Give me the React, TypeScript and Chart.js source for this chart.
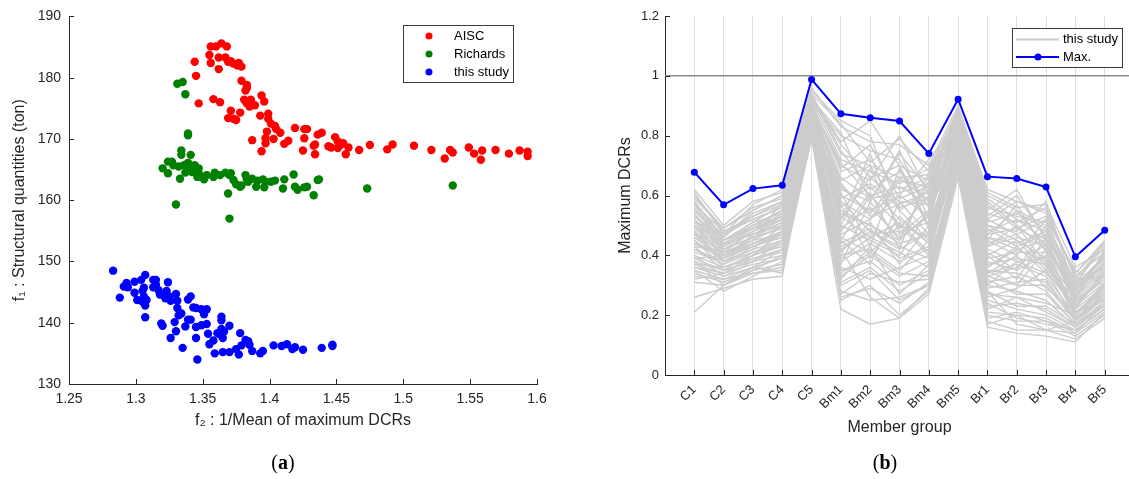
import React, { useEffect, useRef } from 'react';
import { Chart, registerables } from 'chart.js';

Chart.register(...registerables);

// ---------- Panel (a): scatter data ----------
const aiscF2 = [1.355, 1.356, 1.360, 1.364, 1.368, 1.356, 1.362, 1.362, 1.367, 1.369, 1.371, 1.373, 1.376, 1.377, 1.379,
  1.344, 1.345, 1.347, 1.358, 1.363, 1.379, 1.383, 1.383, 1.382, 1.381, 1.383, 1.385, 1.386, 1.389, 1.394, 1.396,
  1.371, 1.378, 1.369, 1.373, 1.375, 1.393, 1.399, 1.399, 1.401, 1.404, 1.405, 1.408, 1.398, 1.397, 1.397, 1.403,
  1.387, 1.394, 1.411, 1.414, 1.419, 1.426, 1.428, 1.426, 1.425, 1.434, 1.433, 1.434, 1.436, 1.439, 1.444, 1.446,
  1.449, 1.451, 1.453, 1.451, 1.455, 1.457, 1.459, 1.467, 1.475, 1.488, 1.492, 1.508, 1.521, 1.531, 1.535, 1.537,
  1.549, 1.553, 1.558, 1.559, 1.569, 1.579, 1.587, 1.593, 1.593];
const aiscF1 = [183.7, 185.1, 185.1, 185.6, 185.1, 182.4, 183.3, 181.4, 183.3, 182.6, 182.7, 182.3, 182.0, 182.4, 181.8,
  182.6, 180.3, 175.8, 176.5, 176.0, 179.5, 178.8, 178.3, 177.9, 176.4, 175.8, 175.3, 176.4, 175.5, 177.1, 176.1,
  174.6, 174.3, 173.4, 173.3, 173.1, 173.8, 174.1, 173.3, 172.5, 172.1, 171.6, 171.0, 171.2, 170.1, 169.3, 170.0,
  169.8, 168.0, 169.2, 169.7, 171.8, 171.6, 171.6, 170.1, 168.1, 169.1, 168.9, 167.5, 170.7, 171.0, 168.8, 168.6,
  170.3, 169.6, 169.0, 168.5, 169.3, 167.5, 168.6, 168.2, 169.0, 168.3, 169.1, 168.9, 168.2, 166.8, 168.2, 167.8,
  168.6, 167.6, 166.6, 168.1, 168.2, 167.6, 168.1, 167.9, 167.2];

const richardsF2 = [1.331, 1.335, 1.337, 1.339, 1.339, 1.334, 1.334, 1.341, 1.320, 1.324, 1.324, 1.327, 1.328, 1.333,
  1.332, 1.336, 1.339, 1.337, 1.341, 1.344, 1.345, 1.347, 1.347, 1.349, 1.351, 1.353, 1.359, 1.363, 1.367, 1.370,
  1.371, 1.369, 1.370, 1.373, 1.375, 1.378, 1.379, 1.382, 1.383, 1.384, 1.387, 1.390, 1.391, 1.395, 1.396, 1.397,
  1.401, 1.404, 1.410, 1.411, 1.418, 1.419, 1.421, 1.426, 1.428, 1.433, 1.436, 1.437, 1.330, 1.473, 1.537, 1.358,
  1.346, 1.342];
const richardsF1 = [179.0, 179.3, 177.3, 170.6, 170.9, 168.1, 167.4, 167.4, 165.2, 164.4, 166.3, 166.3, 165.7, 163.5,
  165.5, 165.7, 166.1, 164.5, 165.2, 165.7, 165.2, 165.2, 164.4, 163.8, 163.4, 164.1, 164.5, 164.1, 164.5, 164.1,
  164.4, 161.1, 157.0, 163.3, 162.6, 162.2, 162.4, 164.1, 163.4, 163.0, 163.5, 162.2, 163.2, 163.4, 162.1, 163.0,
  163.0, 163.2, 161.9, 163.4, 164.2, 162.2, 161.7, 162.1, 162.2, 160.8, 163.3, 163.4, 159.3, 161.9, 162.4, 163.8,
  163.8, 164.6];

const studyF2 = [1.283, 1.288, 1.293, 1.294, 1.299, 1.299, 1.301, 1.304, 1.305, 1.306, 1.306, 1.307, 1.307, 1.308,
  1.307, 1.313, 1.313, 1.315, 1.315, 1.317, 1.318, 1.319, 1.320, 1.322, 1.323, 1.324, 1.325, 1.326, 1.326, 1.329,
  1.330, 1.330, 1.331, 1.331, 1.332, 1.334, 1.335, 1.337, 1.339, 1.339, 1.341, 1.341, 1.343, 1.345, 1.345, 1.345,
  1.346, 1.349, 1.351, 1.349, 1.353, 1.353, 1.354, 1.355, 1.358, 1.359, 1.361, 1.363, 1.364, 1.364, 1.364, 1.365,
  1.366, 1.365, 1.370, 1.370, 1.375, 1.377, 1.378, 1.379, 1.382, 1.384, 1.385, 1.387, 1.393, 1.395, 1.403, 1.409,
  1.413, 1.417, 1.419, 1.425, 1.439, 1.447, 1.447, 1.305, 1.291];
const studyF1 = [148.5, 144.1, 146.5, 145.8, 146.7, 144.9, 143.7, 147.0, 143.4, 145.7, 144.3, 142.8, 140.9, 143.7,
  147.8, 147.0, 145.8, 147.0, 146.2, 145.3, 144.6, 139.9, 139.5, 144.0, 145.2, 146.6, 144.3, 143.6, 137.5, 140.1,
  138.6, 144.7, 143.6, 142.4, 141.2, 141.5, 135.9, 139.4, 140.5, 143.8, 144.3, 140.5, 142.5, 142.4, 139.3, 137.5,
  134.0, 142.2, 141.4, 139.6, 142.2, 139.8, 138.2, 136.5, 137.1, 135.0, 138.3, 138.1, 141.0, 140.4, 139.0, 137.5,
  138.6, 135.2, 135.2, 139.5, 135.7, 134.8, 138.3, 136.3, 137.2, 137.0, 136.4, 135.4, 135.0, 135.4, 136.3, 136.2,
  136.5, 135.7, 136.0, 135.6, 135.9, 136.4, 136.2, 145.2, 145.9];

const f2Ticks = [1.25, 1.3, 1.35, 1.4, 1.45, 1.5, 1.55, 1.6];
const f2TickLabels = ['1.25', '1.3', '1.35', '1.4', '1.45', '1.5', '1.55', '1.6'];
const f1Ticks = [130, 140, 150, 160, 170, 180, 190];
const f1TickLabels = ['130', '140', '150', '160', '170', '180', '190'];

// ---------- Panel (b): member group DCRs ----------
const memberGroups = ['C1', 'C2', 'C3', 'C4', 'C5', 'Bm1', 'Bm2', 'Bm3', 'Bm4', 'Bm5', 'Br1', 'Br2', 'Br3', 'Br4', 'Br5'];
const maxDCR = [0.678, 0.569, 0.623, 0.634, 0.988, 0.873, 0.860, 0.849, 0.740, 0.922, 0.663, 0.657, 0.628, 0.395, 0.484];
const dcrTicks = [0, 0.2, 0.4, 0.6, 0.8, 1, 1.2];
const dcrTickLabels = ['0', '0.2', '0.4', '0.6', '0.8', '1', '1.2'];
const dcrLimit = 1;
const studyRuns = [
  [.62, .50, .58, .61, .95, .85, .80, .55, .45, .88, .60, .55, .50, .30, .40],
  [.58, .46, .55, .60, .93, .78, .85, .70, .50, .90, .55, .62, .45, .25, .42],
  [.55, .45, .50, .55, .90, .70, .65, .80, .60, .86, .50, .48, .58, .28, .38],
  [.52, .42, .48, .52, .92, .60, .55, .60, .72, .84, .45, .40, .52, .35, .30],
  [.50, .40, .45, .58, .88, .55, .50, .45, .65, .82, .40, .45, .35, .22, .35],
  [.48, .38, .42, .50, .86, .50, .45, .40, .55, .80, .38, .35, .40, .20, .30],
  [.45, .36, .40, .48, .85, .45, .60, .50, .40, .78, .35, .30, .30, .18, .28],
  [.43, .35, .38, .45, .84, .40, .42, .35, .45, .75, .30, .28, .25, .16, .25],
  [.40, .33, .36, .42, .83, .35, .38, .30, .35, .72, .25, .22, .20, .15, .22],
  [.38, .30, .35, .40, .80, .30, .35, .25, .30, .70, .20, .18, .18, .13, .20],
  [.35, .28, .33, .38, .82, .25, .30, .20, .28, .68, .18, .15, .15, .12, .19],
  [.33, .32, .34, .35, .79, .22, .17, .19, .27, .66, .16, .14, .13, .11, .21],
  [.21, .30, .36, .34, .81, .28, .25, .26, .30, .70, .17, .20, .15, .14, .24],
  [.26, .29, .32, .33, .87, .42, .26, .19, .29, .74, .28, .17, .15, .18, .27],
  [.32, .34, .40, .44, .89, .65, .70, .55, .62, .85, .48, .52, .45, .32, .33],
  [.60, .48, .52, .56, .94, .75, .62, .68, .58, .89, .58, .50, .42, .30, .45],
  [.57, .44, .47, .50, .91, .68, .72, .62, .66, .87, .52, .58, .55, .33, .41],
  [.54, .41, .44, .47, .90, .62, .58, .75, .52, .83, .46, .44, .48, .26, .36],
  [.51, .47, .53, .57, .87, .58, .48, .42, .48, .79, .42, .38, .34, .24, .32],
  [.47, .43, .49, .53, .85, .52, .66, .58, .57, .81, .36, .42, .38, .21, .29],
  [.44, .39, .43, .46, .84, .47, .52, .65, .63, .77, .33, .36, .44, .19, .27],
  [.42, .37, .41, .43, .83, .43, .47, .48, .51, .76, .31, .33, .28, .17, .26],
  [.39, .40, .46, .49, .86, .38, .44, .38, .42, .73, .27, .26, .24, .20, .31],
  [.37, .36, .39, .41, .82, .33, .40, .33, .38, .71, .23, .24, .22, .16, .23],
  [.36, .34, .37, .39, .80, .31, .36, .28, .34, .69, .21, .20, .19, .14, .21],
  [.46, .42, .46, .51, .88, .56, .63, .52, .44, .80, .44, .47, .36, .23, .34],
  [.53, .45, .51, .54, .89, .64, .53, .57, .61, .85, .49, .43, .47, .27, .37],
  [.59, .49, .56, .59, .92, .72, .68, .64, .69, .88, .56, .53, .51, .31, .43],
  [.49, .41, .45, .50, .87, .49, .56, .46, .53, .82, .39, .41, .41, .22, .30],
  [.41, .38, .42, .45, .85, .36, .32, .36, .40, .75, .29, .31, .32, .18, .26],
  [.56, .43, .49, .55, .91, .80, .75, .72, .56, .86, .53, .60, .46, .29, .39],
  [.44, .40, .44, .48, .86, .54, .50, .44, .47, .78, .37, .39, .37, .21, .28],
  [.50, .44, .50, .53, .90, .66, .59, .61, .64, .84, .47, .49, .53, .34, .44],
  [.38, .35, .38, .42, .84, .39, .46, .41, .36, .74, .32, .27, .27, .17, .24],
  [.61, .47, .57, .62, .96, .83, .78, .77, .70, .90, .61, .56, .57, .36, .42],
  [.34, .31, .35, .37, .81, .27, .34, .31, .32, .72, .24, .19, .17, .15, .22],
  [.47, .39, .47, .52, .88, .59, .64, .56, .59, .83, .43, .46, .43, .25, .35],
  [.42, .37, .43, .47, .85, .46, .41, .50, .46, .77, .35, .34, .31, .19, .27],
  [.53, .46, .54, .58, .93, .74, .70, .66, .67, .87, .51, .54, .49, .28, .40],
  [.45, .38, .41, .44, .86, .44, .49, .39, .43, .79, .34, .37, .33, .20, .29],
  [.57, .48, .53, .58, .92, .81, .58, .74, .62, .89, .57, .49, .44, .27, .38],
  [.52, .44, .47, .51, .89, .52, .74, .47, .55, .84, .45, .57, .41, .31, .36],
  [.48, .40, .43, .47, .87, .61, .43, .69, .49, .81, .41, .35, .50, .24, .33],
  [.43, .41, .48, .54, .90, .48, .61, .42, .68, .86, .50, .45, .39, .26, .41],
  [.40, .36, .40, .43, .84, .57, .39, .53, .44, .76, .34, .40, .29, .21, .25],
  [.36, .33, .38, .40, .83, .41, .51, .37, .50, .74, .26, .29, .35, .18, .30],
  [.55, .47, .52, .56, .91, .69, .77, .59, .63, .88, .54, .51, .56, .32, .44],
  [.50, .42, .46, .49, .88, .63, .54, .66, .58, .83, .47, .55, .43, .28, .37],
  [.46, .39, .44, .48, .86, .53, .46, .51, .41, .80, .40, .32, .46, .23, .31],
  [.44, .41, .45, .47, .85, .37, .58, .45, .54, .78, .36, .43, .34, .24, .34],
  [.39, .35, .41, .45, .83, .45, .37, .58, .47, .75, .30, .38, .39, .19, .26],
  [.58, .45, .51, .57, .93, .77, .66, .70, .65, .87, .59, .52, .48, .30, .39],
  [.35, .32, .36, .39, .82, .32, .43, .27, .37, .71, .22, .26, .21, .16, .24],
  [.31, .30, .34, .36, .80, .26, .29, .24, .31, .70, .19, .21, .18, .15, .22],
  [.54, .43, .50, .55, .90, .71, .60, .63, .57, .85, .52, .47, .52, .29, .40],
  [.47, .45, .49, .52, .88, .50, .69, .49, .60, .81, .43, .50, .37, .25, .32],
  [.42, .38, .44, .46, .85, .42, .48, .43, .39, .77, .33, .30, .42, .20, .28],
  [.60, .49, .55, .60, .94, .84, .71, .79, .68, .89, .62, .58, .54, .34, .45],
  [.37, .34, .39, .42, .84, .34, .41, .34, .33, .73, .28, .23, .23, .17, .23],
  [.51, .43, .48, .53, .89, .58, .52, .60, .53, .83, .46, .42, .45, .26, .36],
];

const FONT = '"Liberation Sans", Arial, sans-serif';
const AX = '#262626';
const GRAY = 'rgb(204,204,204)';

const inwardTicks = {
  id: 'inwardTicks',
  afterDraw(chart: any) {
    const { ctx, chartArea, scales } = chart;
    ctx.save();
    ctx.strokeStyle = AX;
    ctx.lineWidth = 1;
    const xs = scales.x, ys = scales.y;
    xs.ticks.forEach((t: any) => {
      const px = Math.round(xs.getPixelForValue(t.value)) + 0.5;
      ctx.beginPath(); ctx.moveTo(px, chartArea.bottom); ctx.lineTo(px, chartArea.bottom - 5); ctx.stroke();
    });
    ys.ticks.forEach((t: any) => {
      const py = Math.round(ys.getPixelForValue(t.value)) + 0.5;
      ctx.beginPath(); ctx.moveTo(chartArea.left, py); ctx.lineTo(chartArea.left + 5, py); ctx.stroke();
    });
    ctx.restore();
  },
};

const scatterLegend = {
  id: 'scatterLegend',
  afterDraw(chart: any) {
    const { ctx } = chart;
    const x0 = 403, y0 = 25, w = 110, h = 57;
    ctx.save();
    ctx.fillStyle = '#fff';
    ctx.fillRect(x0, y0, w, h);
    ctx.strokeStyle = '#3c3c3c';
    ctx.lineWidth = 1;
    ctx.strokeRect(x0 + 0.5, y0 + 0.5, w, h);
    ctx.font = '13px ' + FONT;
    ctx.textBaseline = 'middle';
    chart.data.datasets.forEach((ds: any, i: number) => {
      const y = y0 + 11 + i * 18;
      ctx.fillStyle = ds.backgroundColor;
      ctx.beginPath(); ctx.arc(x0 + 26, y, 3.5, 0, Math.PI * 2); ctx.fill();
      ctx.fillStyle = '#000';
      ctx.fillText(ds.label, x0 + 51, y);
    });
    ctx.restore();
  },
};

const lineLegend = {
  id: 'lineLegend',
  afterDraw(chart: any) {
    const { ctx } = chart;
    const x0 = 432, y0 = 28, w = 110, h = 39;
    ctx.save();
    ctx.fillStyle = '#fff';
    ctx.fillRect(x0, y0, w, h);
    ctx.strokeStyle = '#3c3c3c';
    ctx.lineWidth = 1;
    ctx.strokeRect(x0 + 0.5, y0 + 0.5, w, h);
    ctx.font = '13px ' + FONT;
    ctx.textBaseline = 'middle';
    const entries = chart.data.datasets
      .filter((d: any) => d.legendIndex !== undefined)
      .sort((a: any, b: any) => a.legendIndex - b.legendIndex);
    entries.forEach((ds: any, i: number) => {
      const y = y0 + 11.5 + i * 17.5;
      ctx.strokeStyle = ds.borderColor;
      ctx.lineWidth = 2;
      ctx.beginPath(); ctx.moveTo(x0 + 4, y); ctx.lineTo(x0 + 47, y); ctx.stroke();
      if (ds.pointRadius > 0) {
        ctx.fillStyle = ds.borderColor;
        ctx.beginPath(); ctx.arc(x0 + 26, y, 3.5, 0, Math.PI * 2); ctx.fill();
      }
      ctx.fillStyle = '#000';
      ctx.fillText(ds.label, x0 + 51, y);
    });
    ctx.restore();
  },
};

export default function App() {
  const leftRef = useRef<HTMLCanvasElement>(null);
  const rightRef = useRef<HTMLCanvasElement>(null);

  useEffect(() => {
    const tickFontA = { family: FONT, size: 14 };
    const tickFontB = { family: FONT, size: 13 };
    const titleFont = { family: FONT, size: 16 };

    const left = new Chart(leftRef.current as HTMLCanvasElement, {
      type: 'scatter',
      data: {
        datasets: [
          { label: 'AISC', data: aiscF2.map((x, i) => ({ x, y: aiscF1[i] })), backgroundColor: '#ff0000', borderWidth: 0, pointRadius: 4.2 },
          { label: 'Richards', data: richardsF2.map((x, i) => ({ x, y: richardsF1[i] })), backgroundColor: '#008000', borderWidth: 0, pointRadius: 4.2 },
          { label: 'this study', data: studyF2.map((x, i) => ({ x, y: studyF1[i] })), backgroundColor: '#0000ff', borderWidth: 0, pointRadius: 4.2 },
        ],
      },
      options: {
        responsive: false,
        animation: false,
        events: [],
        layout: { padding: { top: 16, right: 23, left: 0, bottom: 0 } },
        plugins: { legend: { display: false }, tooltip: { enabled: false } },
        scales: {
          x: {
            type: 'linear', min: 1.25, max: 1.6,
            afterBuildTicks: (s: any) => { s.ticks = f2Ticks.map((v) => ({ value: v })); },
            afterFit: (s: any) => { s.height = 95; },
            ticks: { callback: (_v: any, i: number) => f2TickLabels[i], color: AX, font: tickFontA, padding: 7, autoSkip: false, maxRotation: 0 },
            grid: { display: false, drawTicks: false },
            border: { display: true, color: AX, width: 1 },
            title: { display: true, text: 'f₂ : 1/Mean of maximum DCRs', color: AX, font: titleFont, padding: { top: 0, bottom: 49 } },
          },
          y: {
            type: 'linear', min: 130, max: 190,
            afterBuildTicks: (s: any) => { s.ticks = f1Ticks.map((v) => ({ value: v })); },
            afterFit: (s: any) => { s.width = 69; },
            ticks: { callback: (_v: any, i: number) => f1TickLabels[i], color: AX, font: tickFontA, padding: 8, autoSkip: false },
            grid: { display: false, drawTicks: false },
            border: { display: true, color: AX, width: 1 },
            title: { display: true, text: 'f₁ : Structural quantities (ton)', color: AX, font: titleFont, padding: { top: 10, bottom: 0 } },
          },
        },
      } as any,
      plugins: [inwardTicks, scatterLegend],
    });

    const runDatasets = studyRuns.map((run, k) => ({
      label: 'this study',
      legendIndex: k === 0 ? 0 : undefined,
      data: run.map((v, i) => ({ x: i + 1, y: v })),
      borderColor: GRAY,
      borderWidth: 1.4,
      pointRadius: 0,
      order: 2,
    }));

    const right = new Chart(rightRef.current as HTMLCanvasElement, {
      type: 'line',
      data: {
        datasets: [
          {
            label: 'Max.', legendIndex: 1,
            data: maxDCR.map((v, i) => ({ x: i + 1, y: v })),
            borderColor: '#0000ff', backgroundColor: '#0000ff', borderWidth: 2,
            pointRadius: 3.5, pointBorderWidth: 0, order: 0,
          },
          ...runDatasets,
          {
            label: 'limit',
            data: [{ x: 0, y: dcrLimit }, { x: memberGroups.length + 1, y: dcrLimit }],
            borderColor: '#8c8c8c', borderWidth: 1.5, pointRadius: 0, order: 3,
          },
        ] as any,
      },
      options: {
        responsive: false,
        animation: false,
        events: [],
        layout: { padding: { top: 16, right: 6, left: 0, bottom: 0 } },
        plugins: { legend: { display: false }, tooltip: { enabled: false } },
        scales: {
          x: {
            type: 'linear', min: 0, max: memberGroups.length + 1,
            afterBuildTicks: (s: any) => { s.ticks = memberGroups.map((_g, i) => ({ value: i + 1 })); },
            afterFit: (s: any) => { s.height = 104; },
            ticks: { callback: (_v: any, i: number) => memberGroups[i], color: AX, font: tickFontB, padding: 7, autoSkip: false, minRotation: 45, maxRotation: 45 },
            grid: { display: true, drawTicks: false, color: '#e0e0e0', lineWidth: 1 },
            border: { display: true, color: AX, width: 1 },
            title: { display: true, text: 'Member group', color: AX, font: titleFont, padding: { top: 0, bottom: 42 } },
          },
          y: {
            type: 'linear', min: 0, max: 1.2,
            afterBuildTicks: (s: any) => { s.ticks = dcrTicks.map((v) => ({ value: v })); },
            afterFit: (s: any) => { s.width = 85; },
            ticks: { callback: (_v: any, i: number) => dcrTickLabels[i], color: AX, font: tickFontB, padding: 6, autoSkip: false },
            grid: { display: false, drawTicks: false },
            border: { display: true, color: AX, width: 1 },
            title: { display: true, text: 'Maximum DCRs', color: AX, font: titleFont, padding: { top: 36, bottom: 0 } },
          },
        },
      } as any,
      plugins: [inwardTicks, lineLegend],
    });

    return () => { left.destroy(); right.destroy(); };
  }, []);

  const capStyle: React.CSSProperties = {
    position: 'absolute', width: 100, top: 451, textAlign: 'center',
    fontFamily: '"Liberation Serif", "DejaVu Serif", serif', fontSize: 20, color: '#000', lineHeight: '23px',
  };

  return (
    <div style={{ position: 'absolute', left: 0, top: 0, width: 1129, height: 479, overflow: 'hidden', background: '#fff' }}>
      <canvas ref={leftRef} width={560} height={479} style={{ position: 'absolute', left: 0, top: 0, width: 560, height: 479 }} />
      <canvas ref={rightRef} width={560} height={479} style={{ position: 'absolute', left: 580, top: 0, width: 560, height: 479 }} />
      <div style={{ ...capStyle, left: 233 }}>(<b>a</b>)</div>
      <div style={{ ...capStyle, left: 835 }}>(<b>b</b>)</div>
    </div>
  );
}
